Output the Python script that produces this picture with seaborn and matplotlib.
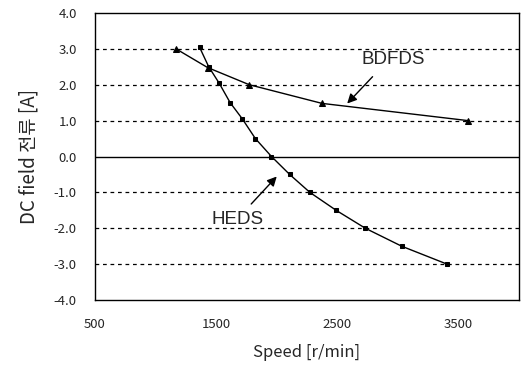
import pandas as pd
import matplotlib
matplotlib.use("Agg")
from matplotlib import pyplot as plt
import seaborn as sns

sns.set_style("white")
plt.rcParams['font.family'] = ['Noto Sans CJK KR', 'DejaVu Sans']

# data
bdfds_speed = [1170, 1430, 1775, 2375, 3580]
bdfds_current = [3.0, 2.48, 2.0, 1.48, 1.0]

heds_speed = [1365, 1440, 1525, 1617, 1717, 1825, 1958, 2108, 2275, 2492, 2733, 3033, 3408]
heds_current = [3.04, 2.5, 2.05, 1.5, 1.05, 0.5, 0.0, -0.5, -1.0, -1.5, -2.0, -2.5, -3.0]

x_ticks = [500, 1500, 2500, 3500]
y_ticks = [-4.0, -3.0, -2.0, -1.0, 0.0, 1.0, 2.0, 3.0, 4.0]

df_b = pd.DataFrame({'speed': bdfds_speed, 'current': bdfds_current})
df_h = pd.DataFrame({'speed': heds_speed, 'current': heds_current})

fig = plt.figure(figsize=(5.21, 3.70), dpi=100)
ax = fig.add_axes([0.182, 0.189, 0.814, 0.776])

for y in y_ticks[1:-1]:
	if y == 0:
		ax.axhline(y, color='black', lw=1.0, zorder=1)
	else:
		ax.axhline(y, color='black', lw=0.9, ls=(0, (3, 3)), zorder=1)

sns.lineplot(data=df_b, x='speed', y='current', ax=ax, color='black', lw=1.0,
			 marker='^', markersize=5, markeredgecolor='black', zorder=3)
sns.lineplot(data=df_h, x='speed', y='current', ax=ax, color='black', lw=1.0,
			 marker='s', markersize=3.5, markeredgecolor='black', zorder=3)

# labels with arrows
ax.text(2967, 2.70, 'BDFDS', fontsize=13.5, ha='center', va='center', family=['Liberation Sans'])
ax.annotate('', xy=(2567, 1.42), xytext=(2808, 2.28),
			arrowprops=dict(arrowstyle='-|>', color='black', lw=1.0, mutation_scale=14))
ax.text(1680, -1.75, 'HEDS', fontsize=13.5, ha='center', va='center', family=['Liberation Sans'])
ax.annotate('', xy=(2017, -0.5), xytext=(1775, -1.38),
			arrowprops=dict(arrowstyle='-|>', color='black', lw=1.0, mutation_scale=14))

ax.set_xlim(500, 4000)
ax.set_ylim(-4.0, 4.0)
ax.set_xticks(x_ticks)
ax.set_yticks(y_ticks)
ax.set_yticklabels([f'{v:.1f}' for v in y_ticks])
ax.tick_params(axis='both', length=0, labelsize=9.5)
ax.tick_params(axis='x', pad=13)
ax.tick_params(axis='y', pad=13)
ax.set_xlabel('Speed [r/min]', fontsize=12, labelpad=9)
ax.set_ylabel('DC field 전류 [A]', fontsize=13.5, labelpad=10)

for s in ax.spines.values():
	s.set_color('black')
	s.set_linewidth(1.0)

fig.savefig('out.png', dpi=100)
